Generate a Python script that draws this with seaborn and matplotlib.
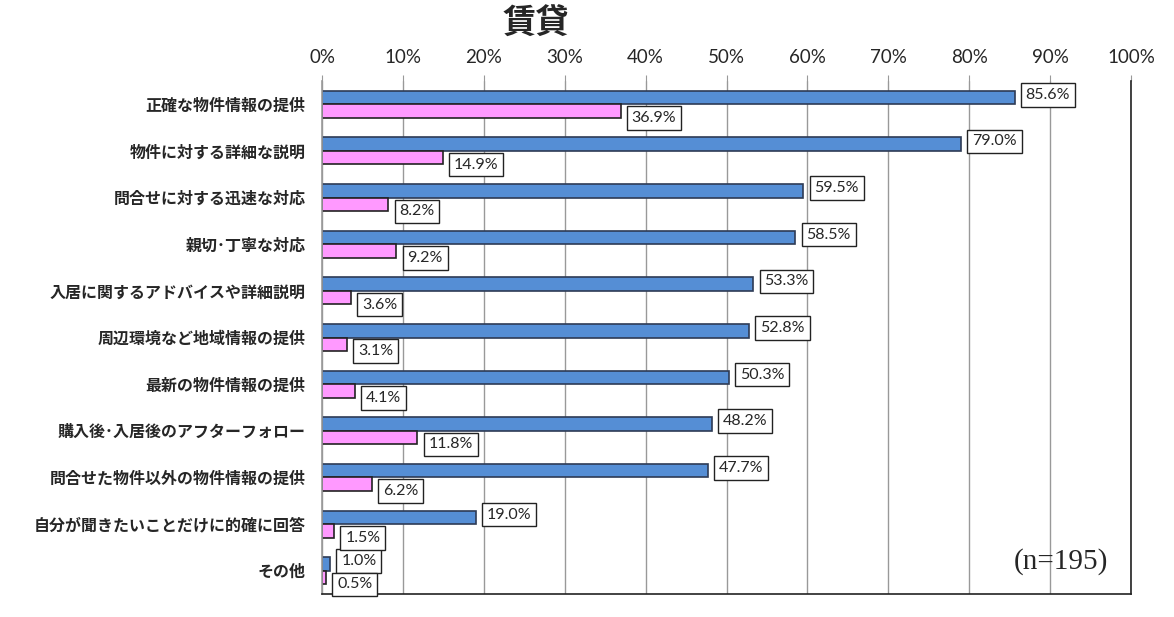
import matplotlib
matplotlib.use("Agg")
import matplotlib.pyplot as plt
import matplotlib.ticker as mticker
import pandas as pd
import numpy as np
import seaborn as sns

categories = [
    "正確な物件情報の提供",
    "物件に対する詳細な説明",
    "問合せに対する迅速な対応",
    "親切･丁寧な対応",
    "入居に関するアドバイスや詳細説明",
    "周辺環境など地域情報の提供",
    "最新の物件情報の提供",
    "購入後･入居後のアフターフォロー",
    "問合せた物件以外の物件情報の提供",
    "自分が聞きたいことだけに的確に回答",
    "その他",
]
series_names = ["A", "B"]
blue_vals = [85.6, 79.0, 59.5, 58.5, 53.3, 52.8, 50.3, 48.2, 47.7, 19.0, 1.0]
pink_vals = [36.9, 14.9, 8.2, 9.2, 3.6, 3.1, 4.1, 11.8, 6.2, 1.5, 0.5]
xtick_vals = list(range(0, 101, 10))

df = pd.DataFrame({
    "item": categories * 2,
    "series": [series_names[0]] * len(categories) + [series_names[1]] * len(categories),
    "value": blue_vals + pink_vals,
})

sns.set_style("white")
plt.rcParams["font.family"] = ["Noto Sans CJK JP", "DejaVu Sans"]

fig = plt.figure(figsize=(11.74, 6.17), dpi=100)
ax = fig.add_axes([322 / 1174, 1 - 594 / 617, (1131 - 322) / 1174, (594 - 81) / 617])

colors = {"A": "#558ED5", "B": "#FF99FF"}
sns.barplot(data=df, y="item", x="value", hue="series", order=categories,
            hue_order=series_names, palette=colors, width=0.58, orient="h",
            legend=False, ax=ax, linewidth=1.2, edgecolor="#222222", saturation=1)
for bar in ax.containers[0]:
    bar.set_edgecolor("#2E3B55")

ax.set_xlim(0, 100)
ax.set_ylim(len(categories) - 0.5, -0.5)
ax.set_xticks(xtick_vals)
ax.xaxis.set_major_formatter(mticker.FuncFormatter(lambda v, p: f"{int(v)}%"))
ax.xaxis.tick_top()
ax.tick_params(axis="x", length=4, color="#999999", pad=7, labelsize=13.5)
for lab in ax.get_xticklabels():
    lab.set_fontfamily(["Lato", "DejaVu Sans"])
ax.grid(axis="x", color="#999999", linewidth=1)
ax.set_axisbelow(True)

ax.set_yticks(range(len(categories)))
ax.set_yticklabels(categories, fontsize=11.5, fontweight="bold")
ax.tick_params(axis="y", length=0, pad=12)
ax.set_yticks(np.arange(-0.5, len(categories), 1), minor=True)
ax.tick_params(axis="y", which="minor", length=6, color="#999999", direction="out")
ax.set_xlabel("")
ax.set_ylabel("")

ax.spines["top"].set_visible(False)
ax.spines["left"].set_color("#999999")
ax.spines["right"].set_color("#222222")
ax.spines["bottom"].set_color("#222222")
for s in ["left", "right", "bottom"]:
    ax.spines[s].set_linewidth(1.2)

for cont, dy in zip(ax.containers, [-2, 5]):
    for bar, v in zip(cont, cont.datavalues):
        ax.annotate(f"{v:.1f}%", xy=(bar.get_x() + bar.get_width(), bar.get_y() + bar.get_height() / 2),
                    xytext=(8, -dy), textcoords="offset points", ha="left", va="center",
                    fontsize=11.5, family=["Lato", "DejaVu Sans"],
                    bbox=dict(boxstyle="square,pad=0.3", fc="white", ec="#222222", lw=1))

fig.text(536 / 1174, 1 - 24 / 617, "賃貸", ha="center", va="center", fontsize=24, fontweight="bold")
fig.text(1061 / 1174, 1 - 562 / 617, "(n=195)", ha="center", va="center",
         fontsize=21, family=["Liberation Serif", "DejaVu Serif"])

fig.savefig("out.png", dpi=100)
